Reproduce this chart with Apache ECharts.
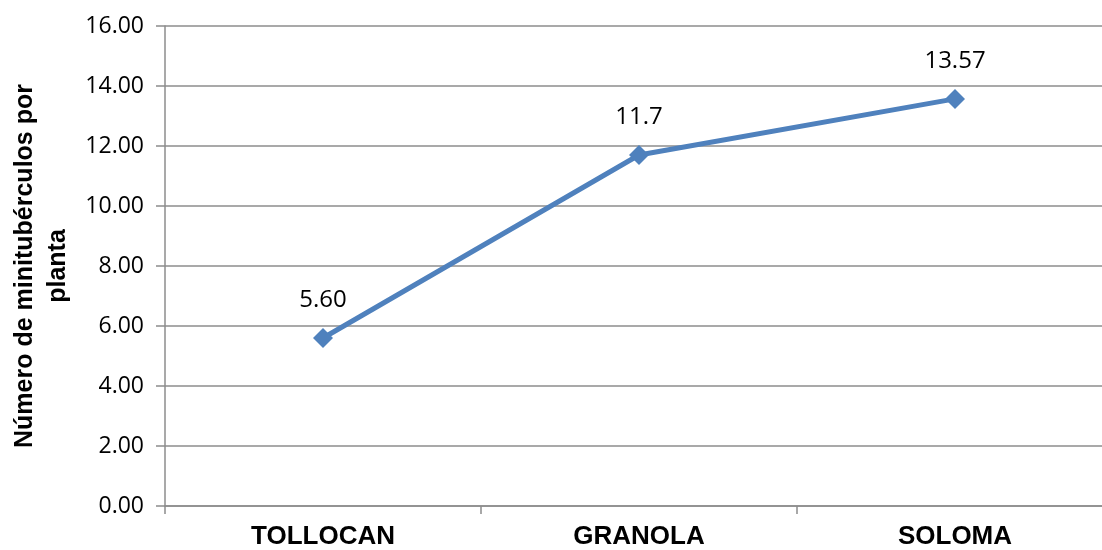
<!DOCTYPE html>
<html>
<head>
<meta charset="utf-8">
<script src="https://cdn.jsdelivr.net/npm/echarts@6/dist/echarts.min.js"></script>
<style>
  html, body { margin: 0; padding: 0; background: #fff; overflow: hidden; }
  #chart { width: 1120px; height: 550px; }
</style>
</head>
<body>
<div id="chart"></div>
<script>
// Varieties and mean minitubers per plant
const categories = ['TOLLOCAN', 'GRANOLA', 'SOLOMA'];
const values = [5.60, 11.70, 13.57];
const valueLabels = ['5.60', '11.7', '13.57'];

const axisGray = '#8c8c8c';
const chart = echarts.init(document.getElementById('chart'));

chart.setOption({
  backgroundColor: '#ffffff',
  animation: false,
  grid: { left: 165, top: 26, width: 948, height: 483, containLabel: false },
  xAxis: {
    type: 'category',
    data: categories,
    boundaryGap: true,
    axisLine: { lineStyle: { color: axisGray, width: 1.5 } },
    axisTick: { show: true, length: 8, lineStyle: { color: axisGray, width: 1.5 } },
    axisLabel: {
      margin: 18,
      color: '#000',
      fontFamily: 'Liberation Sans, Arial, sans-serif',
      fontWeight: 'bold',
      fontSize: 26
    },
    splitLine: { show: false }
  },
  yAxis: {
    type: 'value',
    min: 0,
    max: 16,
    interval: 2,
    name: 'Número de minitubérculos por\nplanta',
    nameLocation: 'middle',
    nameGap: 86,
    nameTextStyle: {
      color: '#000',
      fontFamily: 'Liberation Sans, Arial, sans-serif',
      fontWeight: 'bold',
      fontSize: 25,
      lineHeight: 33
    },
    axisLine: { show: true, lineStyle: { color: axisGray, width: 1.5 } },
    axisTick: { show: true, length: 9, lineStyle: { color: axisGray, width: 1.5 } },
    axisLabel: {
      margin: 21,
      color: '#000',
      fontFamily: 'Open Sans, Carlito, sans-serif',
      fontSize: 23,
      formatter: v => v.toFixed(2)
    },
    splitLine: { show: true, lineStyle: { color: axisGray, width: 1.5 } }
  },
  series: [{
    type: 'line',
    data: values,
    symbol: 'diamond',
    symbolSize: 20,
    itemStyle: { color: '#4F81BD' },
    lineStyle: { color: '#4F81BD', width: 5 },
    label: {
      show: true,
      position: 'top',
      distance: 16,
      color: '#000',
      fontFamily: 'Open Sans, Carlito, sans-serif',
      fontSize: 24,
      formatter: p => valueLabels[p.dataIndex]
    }
  }]
});
</script>
</body>
</html>
